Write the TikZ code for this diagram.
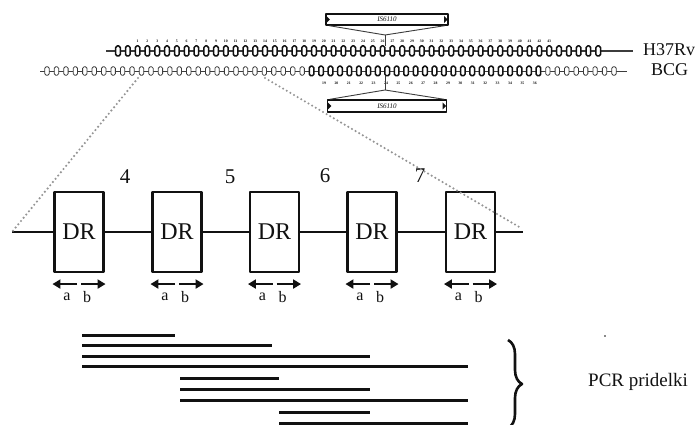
\documentclass[tikz,border=0pt]{standalone}
\usepackage{fontspec}
\setmainfont{Liberation Serif}
\usetikzlibrary{arrows.meta,positioning,calc,decorations.pathreplacing}
\definecolor{ink}{HTML}{111111}
\definecolor{ink2}{HTML}{3C3C3C}
\definecolor{dots}{HTML}{959595}
\tikzset{
  >={Triangle[length=8pt,width=9pt]},
  every picture/.style={line join=round},
  strand/.style={draw=ink, line width=1.9pt},
  drbox/.style={draw=ink, fill=white, line width=2.1pt, minimum width=49pt,
    minimum height=80pt, inner sep=0pt, font=\fontsize{24}{24}\selectfont, text=ink},
  rptnum/.style={font=\fontsize{21}{21}\selectfont, text=ink, inner sep=0pt},
  dir/.style={->, draw=ink, line width=2.8pt},
  dirlbl/.style={font=\fontsize{16}{16}\selectfont, text=ink, inner sep=0pt},
  unit/.style={draw=ink, fill=white, rounded corners=1.5pt, minimum width=4.6pt,
    minimum height=10pt, inner sep=0pt, line width=1.5pt},
  thinunit/.style={unit, draw=ink2, line width=0.8pt, minimum width=4.4pt, minimum height=8.5pt},
  backbone/.style={draw=ink2, line width=1.1pt},
  tinynum/.style={font=\fontsize{3.8}{4}\selectfont\bfseries, text=ink, inner sep=0pt},
  strain/.style={font=\fontsize{18}{18}\selectfont, text=ink, anchor=west, inner sep=0pt},
  isbox/.style={draw=ink, fill=white, line width=1.4pt, inner sep=0pt,
    font=\fontsize{7}{7}\selectfont\itshape, text=ink},
  isline/.style={draw=ink2, line width=0.9pt},
  zoomline/.style={draw=dots, line width=2.4pt, line cap=round, dash pattern=on 0pt off 4.2pt},
  pcr/.style={draw=ink, line width=3pt},
}
\begin{document}
\begin{tikzpicture}[x=1pt, y=-1pt]
  \useasboundingbox (0,0) rectangle (697,425);
  % ===================== strains =====================
  \node[strain] (lbl-h) at (643,50) {H37Rv};
  \node[strain] (lbl-b) at (651,70) {BCG};
  \coordinate (h-start) at (106,51); \coordinate (h-end) at (633,51);
  \coordinate (b-start) at (40,71);  \coordinate (b-end) at (627,71);
  \draw[backbone] (h-start) -- (h-end);
  \draw[backbone, line width=0.8pt] (b-start) -- (b-end);
  \foreach \k in {1,...,50}{\node[unit] (h\k) at ({118+(\k-1)*9.8},51) {};}
  \foreach \n in {1,...,43}{\node[tinynum] at ({137.6+(\n-1)*9.8},41) {\n};}
  \foreach \k in {1,...,28}{\node[thinunit] (b\k) at ({47+(\k-1)*9.45},71) {};}
  \foreach \k in {29,...,53}{\node[unit, minimum height=9.5pt] (b\k) at ({47+(\k-1)*9.45},71) {};}
  \foreach \k in {54,...,61}{\node[thinunit] (b\k) at ({47+(\k-1)*9.45},71) {};}
  \foreach \n in {19,...,36}{\node[tinynum] at ({324+(\n-19)*12.4},83) {\n};}

  % ===================== IS6110 insertions =====================
  \node[isbox, minimum width=122pt, minimum height=11pt] (is-top) at (387,19.5) {IS6110};
  \node[isbox, minimum width=119pt, minimum height=12pt] (is-bot) at (387,106) {IS6110};
  \foreach \b in {is-top,is-bot}{
    \fill[ink] ([xshift=1pt,yshift=3.5pt]\b.west) -- ([xshift=4.5pt]\b.west) -- ([xshift=1pt,yshift=-3.5pt]\b.west) -- cycle;
    \fill[ink] ([xshift=-4.5pt,yshift=3.5pt]\b.east) -- ([xshift=-1pt]\b.east) -- ([xshift=-4.5pt,yshift=-3.5pt]\b.east) -- cycle;}
  \coordinate (ins-top) at (385,35); \coordinate (ins-bot) at (385,90);
  \draw[isline] ([xshift=4pt]is-top.south west) -- (ins-top) -- ([xshift=-4pt]is-top.south east);
  \draw[isline] (ins-top) -- (385,46);
  \draw[isline] ([xshift=3pt]is-bot.north west) -- (ins-bot) -- ([xshift=-3pt]is-bot.north east);
  \draw[isline] (ins-bot) -- (385,76);

  % ===================== DR locus (enlarged) =====================
  \coordinate (s-start) at (12,232); \coordinate (s-end) at (523,232);
  \foreach \i/\x in {1/79,2/177,3/274.5,4/372,5/470.5}{
    \node[drbox] (dr\i) at (\x,232) {DR};}
  \draw[strand] (s-start) -- (dr1) -- (dr2) -- (dr3) -- (dr4) -- (dr5) -- (s-end);
  \foreach \i in {1,...,5}{
    \draw[dir] ($(dr\i.south)+(-2,11)$) -- ($(dr\i.south west)+(-1,11)$);
    \draw[dir] ($(dr\i.south)+(2,11)$) -- ($(dr\i.south east)+(1,11)$);
    \node[dirlbl] at ($(dr\i.south)+(-12,24)$) {a};
    \node[dirlbl] at ($(dr\i.south)+(8,24)$) {b};}
  \node[rptnum] at (125,177) {4};
  \node[rptnum] at (230,177) {5};
  \node[rptnum] at (325,176) {6};
  \node[rptnum] at (420,176) {7};
  \coordinate (z-left) at (138,78); \coordinate (z-right) at (265,78);
  \draw[zoomline] (z-left) -- (s-start);
  \draw[zoomline] (z-right) -- ($(s-end)+(-2,-4)$);

  % ===================== PCR products =====================
  \foreach \xa/\xb/\y in {82/175/335, 82/272/345, 82/370/356, 82/468/366,
      180/279/378, 180/370/389, 180/468/400, 279/370/412, 279/468/423}{
    \draw[pcr] (\xa,\y) -- (\xb,\y);}
  \draw[ink, line width=2.6pt, decorate, decoration={brace, amplitude=14pt}] (508,340) -- (508,428);
  \fill[ink] (605,336) circle (0.9pt);
  \node[font=\fontsize{19}{19}\selectfont, text=ink, anchor=west, inner sep=0pt] (pcr-lbl) at (588,382) {PCR pridelki};
\end{tikzpicture}
\end{document}
